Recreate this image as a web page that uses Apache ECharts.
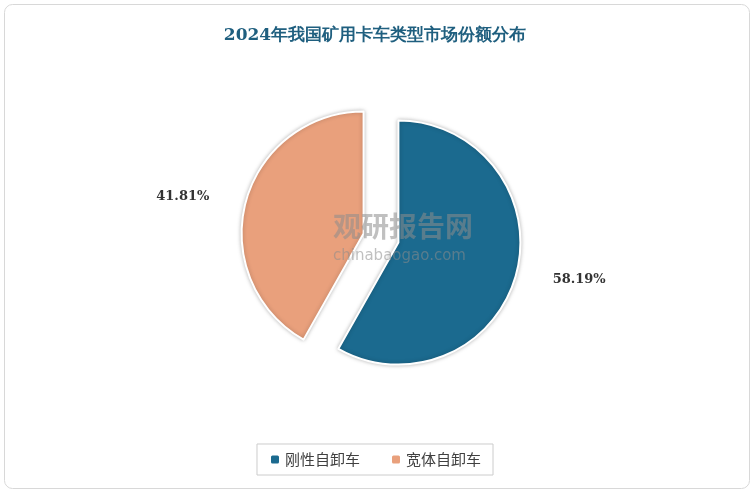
<!DOCTYPE html>
<html><head><meta charset="utf-8">
<script src="https://cdn.jsdelivr.net/npm/echarts@6/dist/echarts.min.js"></script>
<style>html,body{margin:0;padding:0;background:#fff}#c{width:750px;height:489px}</style>
</head><body><div id="c"></div>
<script>
const categories = ["刚性自卸车", "宽体自卸车"];
const shares = [58.19, 41.81];
const colors = ["#1b6a8f", "#e9a07c"];

let chart = echarts.init(document.getElementById("c"));
chart.setOption({
  title: {
    text: "2024年我国矿用卡车类型市场份额分布",
    left: "center",
    top: 22,
    textStyle: { fontFamily: "DejaVu Serif", fontSize: 17, fontWeight: "bold", color: "#1f5f7f" },
  },
  graphic: [
    { type: "rect", left: 2, top: 2, z: -1, shape: { width: 745, height: 484, r: 8 }, style: { fill: "none", stroke: "#d8d8d8", lineWidth: 1 }, silent: true },
    { type: "text", left: 333, top: 212, z: 100, style: { text: "观研报告网", fill: "rgba(140,140,140,0.55)", font: "bold 28px 'Noto Sans CJK SC'" }, silent: true },
    { type: "text", left: 333, top: 249, z: 100, style: { text: "chinabaogao.com", fill: "rgba(140,140,140,0.55)", font: "15px 'DejaVu Sans'" }, silent: true },
  ],
  legend: {
    bottom: 14,
    left: "center",
    itemWidth: 10,
    itemHeight: 10,
    itemGap: 30,
    padding: [8, 12],
    borderColor: "#cccccc",
    borderWidth: 1,
    textStyle: { fontSize: 15, color: "#404040", fontFamily: "Noto Sans CJK SC" },
    data: categories,
  },
  series: [
    {
      type: "pie",
      center: [381, 238],
      radius: 122,
      startAngle: 90,
      clockwise: true,
      selectedMode: "multiple",
      selectedOffset: 18,
      itemStyle: { borderColor: "#fff", borderWidth: 2, shadowColor: "rgba(0,0,0,0.25)", shadowBlur: 4 },
      label: {
        position: "outside",
        formatter: (p) => p.value.toFixed(2) + "%",
        color: "#333",
        fontSize: 13,
        fontWeight: "bold",
        fontFamily: "DejaVu Serif",
      },
      labelLine: { show: true, length: 22, length2: 10, lineStyle: { opacity: 0 } },
      data: categories.map((name, i) => ({
        name,
        value: shares[i],
        selected: true,
        itemStyle: { color: colors[i] },
      })),
    },
  ],
});
</script></body></html>
